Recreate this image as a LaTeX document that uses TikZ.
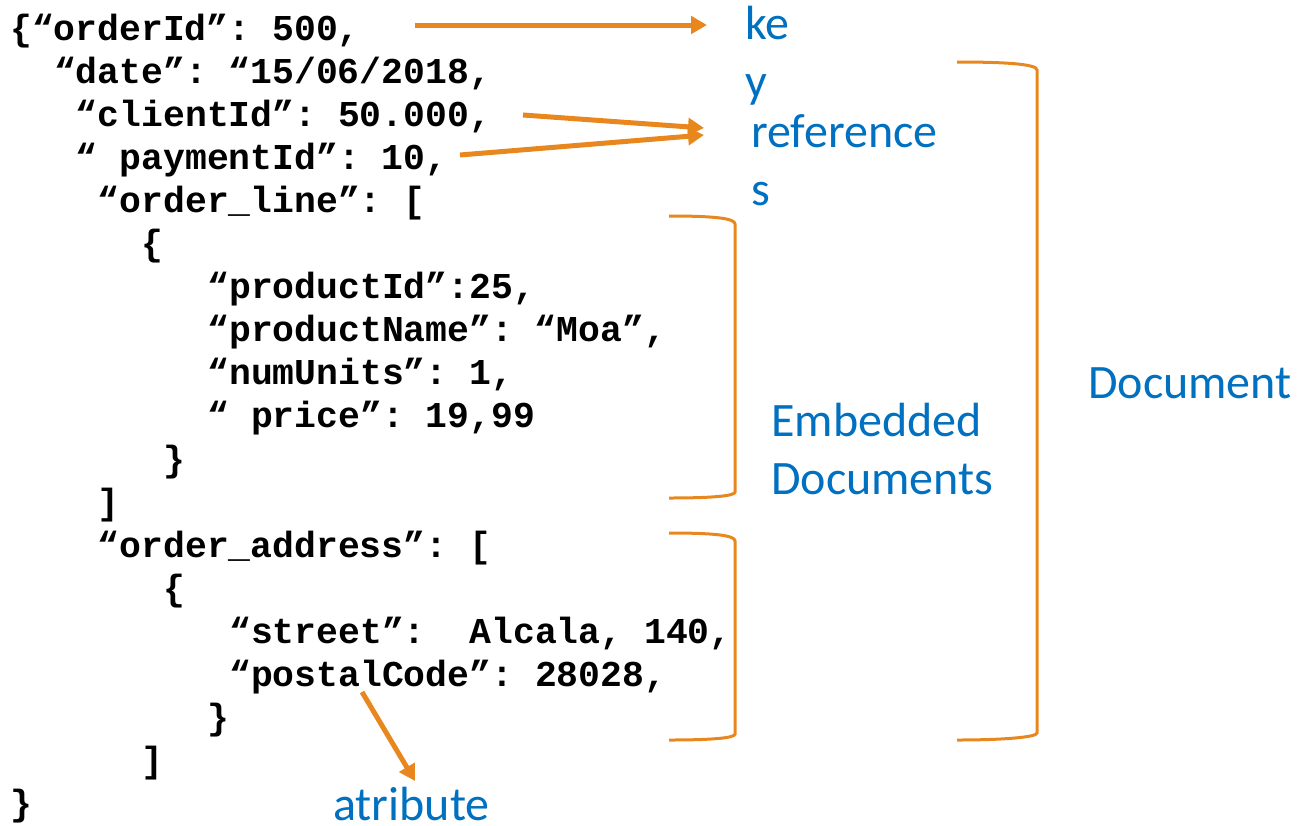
\documentclass[tikz,border=0pt]{standalone}
\usepackage{fontspec}
\setmonofont{Liberation Mono}
\newfontfamily\labelfont{Carlito}
\usetikzlibrary{arrows.meta}
\definecolor{accent}{RGB}{232,135,30}
\definecolor{labelblue}{RGB}{0,112,192}
\tikzset{
  code/.style={anchor=base west, inner sep=0pt, font=\fontsize{27.3pt}{32pt}\ttfamily\bfseries},
  tag/.style={anchor=base west, inner sep=0pt, align=left, text=labelblue,
    font=\fontsize{36pt}{43.5pt}\labelfont},
  pointer/.style={draw=accent, line width=3.75pt, -{Triangle[length=12pt,width=13pt]}},
  brace/.style={draw=accent, line width=2.25pt},
}
\begin{document}
\begin{tikzpicture}[x=0.75pt, y=-0.75pt]
\useasboundingbox (0,0) rectangle (1301,825);

% JSON source, one node per line on a monospaced grid
\node[code] (l1)  at (10,40)      {\{“orderId”: 500,};
\node[code] (l2)  at (53.8,83.1)  {“date”: “15/06/2018,};
\node[code] (l3)  at (75.7,126.2) {“clientId”: 50.000,};
\node[code] (l4)  at (75.7,169.3) {“~paymentId”: 10,};
\node[code] (l5)  at (97.6,212.4) {“order\_line”: [};
\node[code] (l6)  at (141.4,255.5) {\{};
\node[code] (l7)  at (207.1,298.6) {“productId”:25,};
\node[code] (l8)  at (207.1,341.7) {“productName”: “Moa”,};
\node[code] (l9)  at (207.1,384.8) {“numUnits”: 1,};
\node[code] (l10) at (207.1,427.9) {“~price”: 19,99};
\node[code] (l11) at (163.3,471)   {\}};
\node[code] (l12) at (97.6,514.1)  {]};
\node[code] (l13) at (97.6,557.2)  {“order\_address”: [};
\node[code] (l14) at (163.3,600.3) {\{};
\node[code] (l15) at (229,643.4)   {“street”:~~Alcala, 140,};
\node[code] (l16) at (229,686.5)   {“postalCode”: 28028,};
\node[code] (l17) at (207.1,729.6) {\}};
\node[code] (l18) at (141.4,772.7) {]};
\node[code] (l19) at (10,815.8)    {\}};

% annotations (base anchor sits on the last line)
\node[tag] (key)  at (745,97)  {ke\\y};
\node[tag] (refs) at (751,205) {reference\\s};
\node[tag] (emb)  at (771,494) {Embedded\\Documents};
\node[tag] (doc)  at (1088,398) {Document};
\node[tag] (attr) at (333,820) {atribute};

% arrow end points
\coordinate (keyFrom)  at (415,25);
\coordinate (keyTo)    at (707,25);
\coordinate (cliFrom)  at (523,115);
\coordinate (cliTo)    at (704,128);
\coordinate (payFrom)  at (460,155);
\coordinate (payTo)    at (704,135);
\coordinate (attFrom)  at (362,692);
\coordinate (attTo)    at (415,781);

\draw[pointer] (keyFrom) -- (keyTo);
\draw[pointer] (cliFrom) -- (cliTo);
\draw[pointer] (payFrom) -- (payTo);
\draw[pointer] (attFrom) -- (attTo);

% closing brackets
\draw[brace] (669,216) .. controls (712,216) and (735,218) .. (735,224)
  -- (735,492) .. controls (735,496) and (712,498) .. (669,498);
\draw[brace] (669,533) .. controls (712,533) and (735,535) .. (735,541)
  -- (735,734) .. controls (735,738) and (712,740) .. (669,740);
\draw[brace] (957,62) .. controls (1005,62) and (1037,64) .. (1037,70)
  -- (1037,733) .. controls (1037,737) and (1005,740) .. (957,740);
\end{tikzpicture}
\end{document}
